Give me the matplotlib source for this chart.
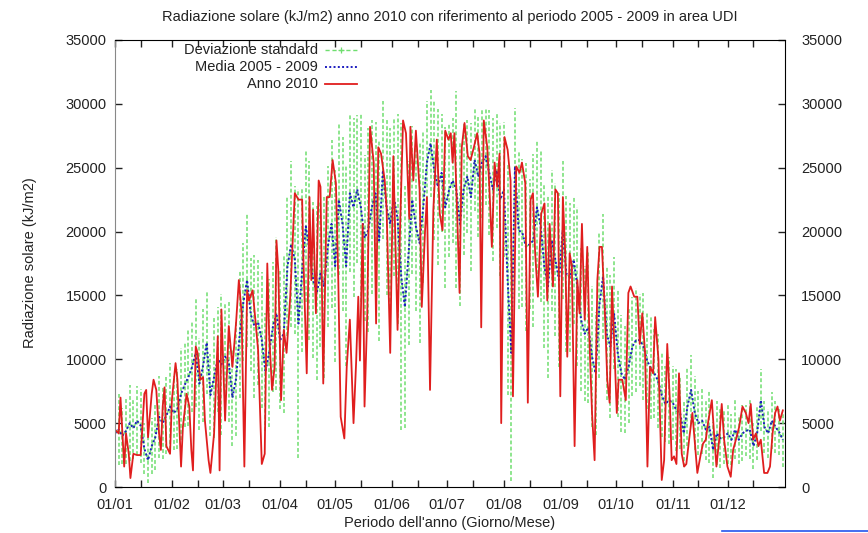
import numpy as np
import matplotlib.pyplot as plt
from matplotlib.lines import Line2D

plt.rcParams['font.family'] = ['Liberation Sans', 'DejaVu Sans']

# media 2005-2009 e deviazione standard (migliaia di kJ/m2), un valore ogni 2 giorni
media = [
    4.2, 4.5, 4.0, 4.4, 5.0, 4.6, 5.2, 4.8, 3.0, 2.1,
    3.2, 3.9, 5.5, 5.0, 5.6, 6.3, 5.8, 6.1, 7.3, 8.0,
    8.6, 9.4, 10.5, 8.1, 9.5, 11.3, 7.2, 8.6, 10.0, 9.6,
    10.2, 9.8, 7.0, 8.5, 12.0, 14.5, 16.2, 13.5, 12.6, 12.9,
    11.5, 9.0, 10.5, 12.5, 13.6, 11.5, 12.0, 17.3, 19.0, 17.8,
    12.8, 17.0, 20.4, 18.5, 16.2, 15.2, 16.7, 15.7, 18.8, 20.6,
    17.3, 22.5, 20.6, 17.3, 23.0, 21.9, 23.3, 21.9, 19.5, 20.1,
    21.9, 23.0, 19.3, 24.8, 21.9, 20.6, 22.7, 21.0, 16.5, 14.1,
    18.3, 22.5, 20.4, 19.1, 21.9, 25.4, 26.9, 24.8, 23.5, 24.6,
    21.9, 23.2, 24.0, 23.3, 20.6, 23.3, 24.3, 22.7, 25.6, 24.3,
    25.4, 25.9, 24.6, 23.3, 24.8, 22.5, 23.3, 16.2, 10.5, 25.1,
    20.1, 19.9, 18.8, 19.0, 19.3, 21.9, 20.4, 17.3, 15.7, 19.3,
    17.8, 16.2, 20.1, 16.7, 16.4, 17.8, 15.7, 13.1, 12.0, 12.5,
    10.2, 8.9, 14.2, 16.5, 12.0, 11.0, 13.6, 10.5, 8.9, 8.4,
    9.5, 11.0, 11.5, 11.5, 11.0, 9.9, 9.3, 8.9, 8.3, 7.2,
    6.5, 6.8, 6.6, 6.0, 5.8, 4.2, 6.3, 7.6, 5.8, 5.0,
    5.2, 4.5, 4.7, 2.9, 4.2, 3.8, 3.9, 4.2, 3.7, 4.5,
    3.7, 4.2, 4.4, 4.5, 3.2, 4.2, 6.8, 4.7, 4.2, 5.2,
    4.7, 4.3, 3.7,
]
dev_std = [
    2.5, 2.8, 2.2, 2.6, 3.0, 2.4, 2.7, 2.9, 2.0, 1.8,
    2.2, 2.6, 3.2, 2.8, 3.0, 3.4, 2.9, 3.1, 3.6, 3.3,
    3.8, 3.5, 4.2, 3.6, 4.4, 4.0, 3.2, 4.8, 4.1, 5.5,
    4.3, 4.7, 3.8, 4.5, 5.0, 4.6, 5.2, 4.4, 5.6, 4.9,
    5.3, 4.6, 5.8, 5.1, 6.0, 5.4, 6.2, 5.5, 6.5, 5.8,
    10.5, 6.4, 5.9, 7.0, 6.1, 6.8, 5.7, 7.2, 6.3, 6.6,
    7.5, 5.9, 6.8, 7.8, 6.2, 7.0, 5.8, 7.4, 6.5, 8.0,
    6.8, 5.6, 7.9, 5.4, 6.9, 7.5, 6.2, 8.2, 12.0, 9.5,
    7.2, 5.8, 6.6, 7.8, 5.9, 4.8, 4.2, 5.5, 6.1, 4.6,
    6.3, 5.2, 4.9, 7.7, 6.4, 5.1, 4.4, 5.8, 4.0, 4.7,
    4.3, 3.8, 4.9, 5.6, 4.5, 6.0, 5.3, 9.0, 10.0, 4.6,
    6.2, 5.8, 6.6, 5.1, 6.8, 5.2, 5.9, 6.4, 7.2, 5.5,
    6.0, 6.8, 5.4, 6.1, 5.8, 5.0, 6.2, 5.6, 5.3, 5.9,
    5.5, 4.8, 5.7, 4.9, 5.2, 5.6, 4.4, 5.0, 4.6, 4.2,
    4.5, 3.9, 4.1, 3.6, 4.2, 3.8, 4.0, 3.5, 3.7, 3.3,
    3.0, 3.4, 2.9, 3.2, 2.8, 2.6, 3.1, 2.7, 2.9, 2.5,
    2.6, 2.4, 2.8, 2.2, 2.5, 2.3, 2.1, 2.4, 2.0, 2.3,
    1.9, 2.2, 2.0, 2.3, 1.8, 2.1, 2.4, 2.0, 1.9, 2.2,
    2.0, 1.8, 2.1,
]

# anno 2010: giorno dell'anno e valore (migliaia di kJ/m2)
giorni_2010 = [
    0, 2, 3, 5, 6, 7.5, 8.4, 10, 12, 14, 16, 17, 18, 20, 21, 22.5, 24, 25, 26, 27,
    28, 30, 31, 33, 34, 36, 37, 39, 40.5, 41.6, 42.5, 44, 45, 46.5, 48, 49, 51, 52, 54, 56,
    57, 58, 60, 62, 64, 66, 67.5, 69, 70.5, 72, 73, 75, 76.5, 78, 80, 81.6, 83, 84, 85.6, 87,
    88, 89, 90.5, 92, 93.5, 95.5, 98, 100, 102, 102.6, 104.5, 106, 107, 108, 109.5, 111, 112, 113.5, 115.4, 117,
    118.6, 120.4, 121.7, 123, 125, 126.3, 128, 130, 131.4, 132.6, 133.5, 135, 136, 137.5, 139, 141, 142.3, 143.5, 145, 147,
    148, 150, 151.7, 154, 155.3, 157, 158.6, 160.4, 161, 162.6, 164, 166, 167.2, 169, 170, 171.7, 173.5, 175.4, 177, 178.5,
    180, 181.7, 183, 184, 185, 186.5, 187.8, 189, 190.5, 192.3, 193.8, 195.6, 197.4, 198.7, 199.6, 201, 202.9, 204.1, 205.4, 206.9,
    208.3, 209.6, 210.5, 212.3, 214, 215.6, 216.9, 218.7, 220.5, 221.8, 223.6, 225, 226.5, 227.8, 229, 230.5, 232.3, 234.1, 235.6, 236.9,
    238.7, 240, 241.4, 242.7, 244.1, 245.4, 246.5, 247.8, 249, 250.5, 252, 253.2, 254.5, 256, 257.4, 258.7, 260, 261.4, 262.9, 264.1,
    265.4, 266.9, 268.3, 269.6, 270.9, 272.3, 273.5, 274.5, 276.5, 278.4, 279.8, 281, 283, 284.7, 286, 287.4, 288.9, 290.2, 291.6, 293.3,
    294.4, 296.2, 298, 299.3, 301, 302.4, 303.4, 304.7, 306, 307.4, 308.9, 310.2, 311.4, 312.9, 314.7, 316.2, 317.4, 319.3, 320.5, 322,
    323.4, 325.3, 326.5, 327.8, 329.3, 330.7, 332, 333.8, 335.6, 336.9, 338.4, 340.2, 342, 343.8, 345.3, 346.5, 347.8, 349.3, 350.7, 352,
    353.8, 355.6, 357, 358.4, 359.8, 361.1, 362.4, 364,
]
valori_2010 = [
    4.5, 4.2, 7.0, 1.6, 4.2, 2.6, 0.7, 2.6, 2.5, 2.5, 7.3, 7.6, 3.9, 7.3, 8.4, 7.6, 4.2, 2.9, 6.3, 7.8,
    3.2, 2.6, 6.8, 9.7, 8.4, 1.6, 4.7, 7.3, 6.3, 2.9, 1.3, 11.0, 10.5, 8.4, 8.6, 5.2, 2.1, 1.1, 4.2, 11.8,
    1.3, 13.9, 5.2, 12.6, 9.4, 12.9, 16.2, 13.6, 1.6, 15.4, 14.6, 15.4, 13.1, 10.7, 1.8, 2.6, 17.5, 12.0, 7.6, 9.4,
    19.3, 17.0, 6.8, 12.3, 10.5, 14.9, 23.0, 22.5, 22.5, 18.3, 8.9, 22.7, 16.2, 21.7, 13.6, 24.0, 23.5, 8.1, 22.7, 22.7,
    25.6, 23.8, 16.2, 5.5, 3.8, 9.4, 13.1, 5.0, 9.7, 14.9, 9.9, 20.6, 6.3, 13.6, 28.2, 25.4, 12.8, 26.6, 26.1, 24.0,
    21.9, 10.5, 25.9, 12.3, 19.9, 28.7, 27.7, 21.0, 28.2, 24.0, 27.9, 23.3, 14.1, 20.1, 22.7, 7.6, 21.7, 27.2, 21.4, 20.1,
    27.9, 27.2, 27.7, 25.4, 27.7, 21.4, 15.2, 26.6, 28.5, 25.9, 25.6, 26.6, 27.7, 26.1, 12.5, 28.7, 26.6, 23.3, 18.8, 25.4,
    23.5, 26.1, 5.0, 27.4, 26.4, 24.0, 7.1, 25.1, 24.6, 25.4, 23.8, 6.6, 22.5, 23.0, 18.3, 14.9, 21.4, 22.2, 14.6, 20.6,
    15.7, 23.3, 23.0, 7.1, 22.7, 18.3, 10.2, 18.3, 17.3, 3.2, 16.2, 13.6, 20.6, 13.1, 18.8, 11.0, 5.8, 2.1, 16.2, 18.8,
    18.8, 14.1, 8.4, 6.6, 15.7, 10.5, 5.8, 8.4, 8.4, 6.8, 15.2, 15.7, 14.9, 14.9, 11.2, 13.6, 10.5, 1.6, 9.4, 8.9,
    13.3, 10.0, 0.55, 2.1, 11.2, 6.8, 2.1, 2.4, 1.8, 8.9, 2.6, 1.6, 1.8, 3.7, 5.8, 3.2, 1.1, 2.6, 3.4, 3.7,
    5.2, 6.8, 4.2, 1.6, 3.7, 6.5, 3.7, 1.6, 0.8, 2.9, 3.7, 4.7, 6.3, 5.8, 5.0, 6.5, 3.7, 4.2, 3.2, 3.7,
    1.1, 1.1, 1.6, 4.2, 5.8, 6.3, 5.2, 6.0,
]

mesi = ['01/01', '01/02', '01/03', '01/04', '01/05', '01/06',
        '01/07', '01/08', '01/09', '01/10', '01/11', '01/12']
inizio_mese = [0, 31, 59, 90, 120, 151, 181, 212, 243, 273, 304, 334]
meta_mese = [14, 45, 73, 104, 134, 165, 195, 226, 257, 287, 318, 348]

VERDE = '#6fde6f'
BLU = '#1c1cc0'
ROSSO = '#e01e1e'
TESTO = '#222222'

giorni = np.arange(0, 365, 2)
media_kj = np.array(media) * 1000
std_kj = np.array(dev_std) * 1000

fig = plt.figure(figsize=(8.68, 5.33), dpi=100)
ax = fig.add_axes([0.1325, 0.0863, 0.7715, 0.8387])

# barre della deviazione standard (tratteggiate come in gnuplot)
eb = ax.errorbar(giorni, media_kj, yerr=std_kj, fmt='none', ecolor=VERDE,
                 elinewidth=1.1, capsize=0)
eb[2][0].set_linestyle((0, (2.5, 1.5)))
ax.plot(giorni, media_kj, color=VERDE, lw=1.0, ls=(0, (3, 2)))

ax.plot(giorni, media_kj, color=BLU, lw=1.4, ls=(0, (1, 1.2)))
ax.plot(giorni_2010, np.array(valori_2010) * 1000, color=ROSSO, lw=1.3)

ax.set_xlim(0, 365)
ax.set_ylim(0, 35000)
ax.set_xticks(inizio_mese)
ax.set_xticklabels(mesi)
ax.set_xticks(meta_mese, minor=True)
ax.set_yticks(np.arange(0, 35001, 5000))
ax.tick_params(axis='both', which='both', direction='in', length=5, width=1,
               top=True, right=True, labelsize=10.5, colors=TESTO)
ax.tick_params(axis='y', labelright=True, pad=6)
# etichette a destra un po' piu' distanti dall'asse
for t in ax.yaxis.get_major_ticks():
    t.label2.set_x(1.012)
ax.tick_params(axis='x', pad=8)

for s in ['top', 'right', 'bottom']:
    ax.spines[s].set_color('black')
ax.spines['left'].set_color('#888888')

# legenda in stile gnuplot: testo allineato a destra, campione a destra
voci = [('Deviazione standard', VERDE, (0, (3, 2)), 1.0),
        ('Media 2005 - 2009', BLU, (0, (1, 1.2)), 1.4),
        ('Anno 2010', ROSSO, '-', 1.3)]
y_leg = [0.978, 0.940, 0.902]
for (testo, col, stile, lw), yy in zip(voci, y_leg):
    ax.text(0.303, yy, testo, transform=ax.transAxes, ha='right', va='center',
            fontsize=10.5, color=TESTO)
    ax.plot([0.313, 0.361], [yy, yy], transform=ax.transAxes, color=col,
            ls=stile, lw=lw, clip_on=False)
ax.plot([0.337], [y_leg[0]], transform=ax.transAxes, marker='+', color=VERDE,
        ms=5, mew=0.9, clip_on=False)

fig.text(450 / 868, 1 - 17 / 533,
         'Radiazione solare (kJ/m2) anno 2010 con riferimento al periodo 2005 - 2009 in area UDI',
         ha='center', va='center', fontsize=10.5, color=TESTO)
fig.text(30 / 868, 1 - 263 / 533, 'Radiazione solare (kJ/m2)', rotation=90,
         ha='center', va='center', fontsize=10.5, color=TESTO)
fig.text(450 / 868, 1 - 523 / 533, "Periodo dell'anno (Giorno/Mese)",
         ha='center', va='center', fontsize=10.5, color=TESTO)

# linea blu in basso a destra presente nell'immagine originale
fig.add_artist(Line2D([722 / 868, 1.0], [1 - 531 / 533, 1 - 531 / 533],
                      color='#2255ee', lw=1.2))

fig.savefig('out.png', dpi=100)
